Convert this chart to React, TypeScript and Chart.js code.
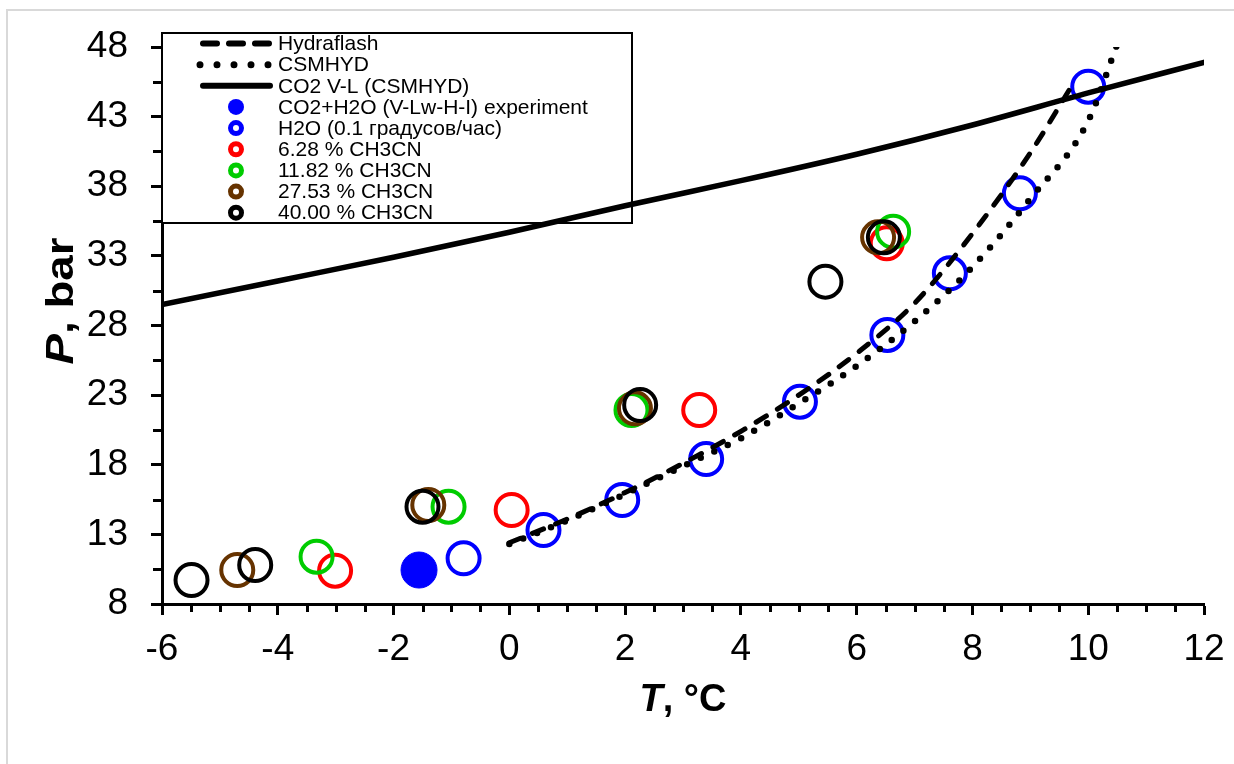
import React, { useEffect, useRef } from 'react';
import { Chart, registerables } from 'chart.js';

Chart.register(...registerables);

// Axis ticks
const T_TICKS = [-6, -4, -2, 0, 2, 4, 6, 8, 10, 12];
const P_TICKS = [8, 13, 18, 23, 28, 33, 38, 43, 48];

// Model curves
const HYDRAFLASH_T = [0, 1, 2, 3, 4, 5, 6, 7, 8, 9, 9.7];
const HYDRAFLASH_P = [12.4, 14.1, 16.0, 18.1, 20.4, 23.0, 26.0, 29.6, 34.6, 40.4, 45.1];

const CSMHYD_T = [0, 1, 2, 3, 4, 5, 6, 7, 8, 9, 10, 10.5];
const CSMHYD_P = [12.3, 14.0, 15.9, 17.9, 19.9, 22.4, 25.1, 28.3, 32.2, 37.1, 42.7, 48.2];

const CO2_VL_T = [-6, -4, -2, 0, 2, 4, 6, 8, 10, 12];
const CO2_VL_P = [29.5, 31.2, 32.9, 34.7, 36.6, 38.4, 40.3, 42.4, 44.7, 46.9];

// Experimental points
const EXP_T = [-1.56];
const EXP_P = [10.44];

const H2O_T = [-0.79, 0.59, 1.95, 3.4, 5.02, 6.53, 7.61, 8.82, 10.0];
const H2O_P = [11.28, 13.31, 15.47, 18.41, 22.53, 27.32, 31.75, 37.49, 45.15];

const AN628_T = [-3.01, 0.04, 3.28, 6.52];
const AN628_P = [10.39, 14.75, 21.93, 33.9];

const AN1182_T = [-3.33, -1.05, 2.11, 6.63];
const AN1182_P = [11.4, 14.99, 21.93, 34.74];

const AN2753_T = [-4.7, -1.4, 2.17, 6.37];
const AN2753_P = [10.44, 15.11, 22.05, 34.33];

const AN4000_T = [-5.49, -4.39, -1.5, 2.26, 5.46, 6.47];
const AN4000_P = [9.72, 10.8, 14.99, 22.29, 31.15, 34.33];

const FONT = '"Liberation Sans", Arial, sans-serif';

const toPoints = (xs: number[], ys: number[]) => xs.map((x, i) => ({ x, y: ys[i] }));

const LINE_SERIES = [
  { label: 'Hydraflash', t: HYDRAFLASH_T, p: HYDRAFLASH_P, width: 5, dash: [12, 13], keyWidth: 6, keyDash: [14, 12] },
  { label: 'CSMHYD', t: CSMHYD_T, p: CSMHYD_P, width: 6.5, dash: [0, 15], keyWidth: 7, keyDash: [0, 17] },
  { label: 'CO2 V-L (CSMHYD)', t: CO2_VL_T, p: CO2_VL_P, width: 5.5, dash: [] as number[], keyWidth: 6, keyDash: [] as number[] },
];

const MARKER_SERIES = [
  { label: 'CO2+H2O (V-Lw-H-I) experiment', t: EXP_T, p: EXP_P, color: '#0000ff', filled: true },
  { label: 'H2O (0.1 градусов/час)', t: H2O_T, p: H2O_P, color: '#0000ff', filled: false },
  { label: '6.28 % CH3CN', t: AN628_T, p: AN628_P, color: '#ff0000', filled: false },
  { label: '11.82 % CH3CN', t: AN1182_T, p: AN1182_P, color: '#00cc00', filled: false },
  { label: '27.53 % CH3CN', t: AN2753_T, p: AN2753_P, color: '#663300', filled: false },
  { label: '40.00 % CH3CN', t: AN4000_T, p: AN4000_P, color: '#000000', filled: false },
];

const decorPlugin = {
  id: 'decor',
  beforeDraw(chart: any) {
    const ctx = chart.ctx as CanvasRenderingContext2D;
    ctx.save();
    ctx.fillStyle = '#ffffff';
    ctx.fillRect(0, 0, chart.width, chart.height);
    ctx.strokeStyle = '#d9d9d9';
    ctx.lineWidth = 2;
    ctx.beginPath();
    ctx.moveTo(7, chart.height + 2);
    ctx.lineTo(7, 10);
    ctx.lineTo(chart.width + 2, 10);
    ctx.stroke();
    ctx.restore();
  },
  beforeDatasetsDraw(chart: any) {
    // legend box in the upper-left corner of the plot
    const ctx = chart.ctx as CanvasRenderingContext2D;
    const left = chart.chartArea.left;
    ctx.save();
    ctx.fillStyle = '#ffffff';
    ctx.fillRect(left, 33, 470, 190);
    ctx.strokeStyle = '#000';
    ctx.lineWidth = 2;
    ctx.strokeRect(left, 33, 470, 190);

    const rowY = (i: number) => 43.5 + i * 21.15;
    const textX = 278;
    ctx.font = `21px ${FONT}`;
    ctx.textBaseline = 'middle';
    ctx.textAlign = 'left';

    LINE_SERIES.forEach((s, i) => {
      const y = rowY(i);
      ctx.save();
      ctx.strokeStyle = '#000';
      ctx.lineWidth = s.keyWidth;
      ctx.lineCap = 'round';
      ctx.setLineDash(s.keyDash);
      ctx.beginPath();
      ctx.moveTo(s.keyDash.length && s.keyDash[0] === 0 ? 200 : 203, y);
      ctx.lineTo(270, y);
      ctx.stroke();
      ctx.restore();
      ctx.fillStyle = '#000';
      ctx.fillText(s.label, textX, y + 1);
    });

    MARKER_SERIES.forEach((s, j) => {
      const y = rowY(j + LINE_SERIES.length);
      ctx.beginPath();
      if (s.filled) {
        ctx.arc(236, y, 8, 0, Math.PI * 2);
        ctx.fillStyle = s.color;
        ctx.fill();
      } else {
        ctx.arc(236, y, 5.5, 0, Math.PI * 2);
        ctx.strokeStyle = s.color;
        ctx.lineWidth = 5;
        ctx.stroke();
      }
      ctx.fillStyle = '#000';
      ctx.fillText(s.label, textX, y + 1);
    });
    ctx.restore();
  },
  afterDraw(chart: any) {
    const ctx = chart.ctx as CanvasRenderingContext2D;
    const xs = chart.scales.x;
    const ys = chart.scales.y;
    const area = chart.chartArea;
    ctx.save();
    ctx.strokeStyle = '#000';
    ctx.lineWidth = 3;
    // minor ticks
    ctx.beginPath();
    for (let v = -6; v <= 12.001; v += 0.5) {
      if (Math.abs(v / 2 - Math.round(v / 2)) < 1e-6) continue;
      const px = Math.round(xs.getPixelForValue(v)) + 0.5;
      ctx.moveTo(px, area.bottom);
      ctx.lineTo(px, area.bottom + 8);
    }
    for (let v = 8; v <= 48.001; v += 2.5) {
      if (P_TICKS.some((t) => Math.abs(t - v) < 1e-6)) continue;
      const py = Math.round(ys.getPixelForValue(v)) + 0.5;
      ctx.moveTo(area.left, py);
      ctx.lineTo(area.left - 9, py);
    }
    ctx.stroke();

    // axis titles: italic symbol + bold units
    ctx.fillStyle = '#000';
    ctx.textBaseline = 'alphabetic';
    ctx.textAlign = 'left';
    const drawTitle = (sym: string, rest: string, cx: number, cy: number, size: number, stretch: number, rotate: boolean) => {
      ctx.save();
      ctx.translate(cx, cy);
      if (rotate) ctx.rotate(-Math.PI / 2);
      ctx.scale(stretch, 1);
      ctx.font = `italic bold ${size}px ${FONT}`;
      const w1 = ctx.measureText(sym).width;
      ctx.font = `bold ${size}px ${FONT}`;
      const w2 = ctx.measureText(rest).width;
      const x0 = -(w1 + w2) / 2;
      ctx.font = `italic bold ${size}px ${FONT}`;
      ctx.fillText(sym, x0, 0);
      ctx.font = `bold ${size}px ${FONT}`;
      ctx.fillText(rest, x0 + w1, 0);
      ctx.restore();
    };
    drawTitle('T', ', °C', 683, 711, 38, 1, false);
    drawTitle('P', ', bar', 73, 301, 39, 1.17, true);
    ctx.restore();
  },
};

export default function App() {
  const canvasRef = useRef<HTMLCanvasElement>(null);

  useEffect(() => {
    const canvas = canvasRef.current;
    if (!canvas) return;

    const lineSets = LINE_SERIES.map((s) => ({
      label: s.label,
      data: toPoints(s.t, s.p),
      showLine: true,
      borderColor: '#000',
      backgroundColor: '#000',
      borderWidth: s.width,
      borderDash: s.dash,
      borderCapStyle: 'round' as const,
      borderJoinStyle: 'round' as const,
      cubicInterpolationMode: 'monotone' as const,
      pointRadius: 0,
      pointHoverRadius: 0,
      fill: false,
      order: 0,
    }));

    const markerSets = MARKER_SERIES.map((s, i) => ({
      label: s.label,
      data: toPoints(s.t, s.p),
      showLine: false,
      pointStyle: 'circle' as const,
      pointRadius: s.filled ? 18 : 16,
      pointHoverRadius: s.filled ? 18 : 16,
      pointBorderWidth: s.filled ? 1 : 4,
      pointBorderColor: s.color,
      pointBackgroundColor: s.filled ? s.color : 'rgba(0,0,0,0)',
      borderColor: s.color,
      backgroundColor: s.filled ? s.color : 'rgba(0,0,0,0)',
      order: MARKER_SERIES.length - i,
    }));

    const chart = new Chart(canvas, {
      type: 'scatter',
      data: { datasets: [...lineSets, ...markerSets] as any },
      options: {
        responsive: false,
        animation: false,
        events: [],
        layout: { padding: { left: 0, right: 30, top: 47, bottom: 0 } },
        plugins: { legend: { display: false }, tooltip: { enabled: false } },
        scales: {
          x: {
            type: 'linear',
            min: -6,
            max: 12,
            afterBuildTicks: (s: any) => {
              s.ticks = T_TICKS.map((v) => ({ value: v }));
            },
            afterFit: (s: any) => {
              s.height = 160;
              s.paddingLeft = 0;
              s.paddingRight = 0;
            },
            grid: {
              display: true,
              drawOnChartArea: false,
              drawTicks: true,
              tickLength: 11,
              tickWidth: 3,
              tickColor: '#000',
            },
            border: { display: true, width: 3, color: '#000' },
            ticks: {
              color: '#000',
              font: { family: FONT, size: 37 },
              padding: 13,
              maxRotation: 0,
              autoSkip: false,
              callback: (v: any) => String(v),
            },
          },
          y: {
            type: 'linear',
            min: 8,
            max: 48,
            afterBuildTicks: (s: any) => {
              s.ticks = P_TICKS.map((v) => ({ value: v }));
            },
            afterFit: (s: any) => {
              s.width = 162;
              s.paddingTop = 0;
              s.paddingBottom = 0;
            },
            grid: {
              display: true,
              drawOnChartArea: false,
              drawTicks: true,
              tickLength: 11,
              tickWidth: 3,
              tickColor: '#000',
            },
            border: { display: true, width: 3, color: '#000' },
            ticks: {
              color: '#000',
              font: { family: FONT, size: 37 },
              padding: 23,
              autoSkip: false,
              callback: (v: any) => String(v),
            },
          },
        },
      },
      plugins: [decorPlugin],
    });

    return () => chart.destroy();
  }, []);

  return (
    <div style={{ position: 'absolute', left: 0, top: 0, width: 1234, height: 764, background: '#fff' }}>
      <canvas ref={canvasRef} width={1234} height={764} style={{ display: 'block' }} />
    </div>
  );
}
